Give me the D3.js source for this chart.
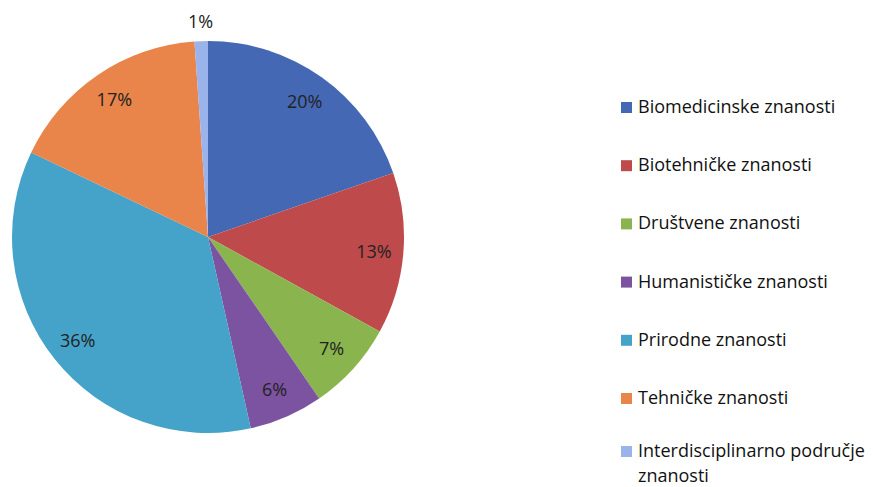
<!DOCTYPE html>
<html><head><meta charset="utf-8">
<script src="https://cdn.jsdelivr.net/npm/d3@7"></script>
<style>body{margin:0;background:#fff;}svg{display:block;}</style>
</head><body>
<script>
const categories = ["Biomedicinske znanosti","Biotehničke znanosti","Društvene znanosti","Humanističke znanosti","Prirodne znanosti","Tehničke znanosti","Interdisciplinarno područje znanosti"];
const values = [19.7, 13.3, 7.4, 6.1, 35.6, 16.8, 1.1];
const labels = ["20%","13%","7%","6%","36%","17%","1%"];
const colors = ["#4468b4","#bf4a4c","#8ab54e","#7c53a0","#45a3c9","#e9844a","#9ab3ea"];

const W = 873, H = 487;
const svg = d3.select("body").append("svg").attr("width", W).attr("height", H);
const font = "'Open Sans', Lato, sans-serif";
const cx = 208, cy = 237, R = 196;

const pie = d3.pie().sort(null).value(d => d)(values);
const arc = d3.arc().innerRadius(0).outerRadius(R);
const g = svg.append("g").attr("transform", `translate(${cx},${cy})`);
g.selectAll("path").data(pie).join("path")
  .attr("d", arc).attr("fill", (d,i) => colors[i]);

const labelArc = d3.arc().innerRadius(R*0.85).outerRadius(R*0.85);
const outerArc = d3.arc().innerRadius(R*1.1).outerRadius(R*1.1);
g.selectAll("text").data(pie).join("text")
  .attr("transform", (d,i) => {
    const c = (i === 6 ? outerArc : labelArc).centroid(d);
    return `translate(${c[0]},${c[1]})`;
  })
  .attr("text-anchor","middle").attr("dy","0.36em")
  .attr("font-family", font).attr("font-size", 18).attr("fill","#222")
  .text((d,i) => labels[i]);

const legend = svg.append("g");
const lb0 = 113, lstep = 58.2;
categories.forEach((c,i) => {
  const b = i === 6 ? 457 : lb0 + i*lstep;
  legend.append("rect").attr("x",621).attr("y",b-11).attr("width",11).attr("height",11).attr("fill",colors[i]);
  const t = legend.append("text").attr("x",638).attr("y",b)
    .attr("font-family", font).attr("font-size", 18).attr("fill","#111");
  if (i === 6) {
    t.append("tspan").attr("x",638).text("Interdisciplinarno područje");
    t.append("tspan").attr("x",638).attr("dy",24.5).text("znanosti");
  } else t.text(c);
});
</script>
</body></html>
